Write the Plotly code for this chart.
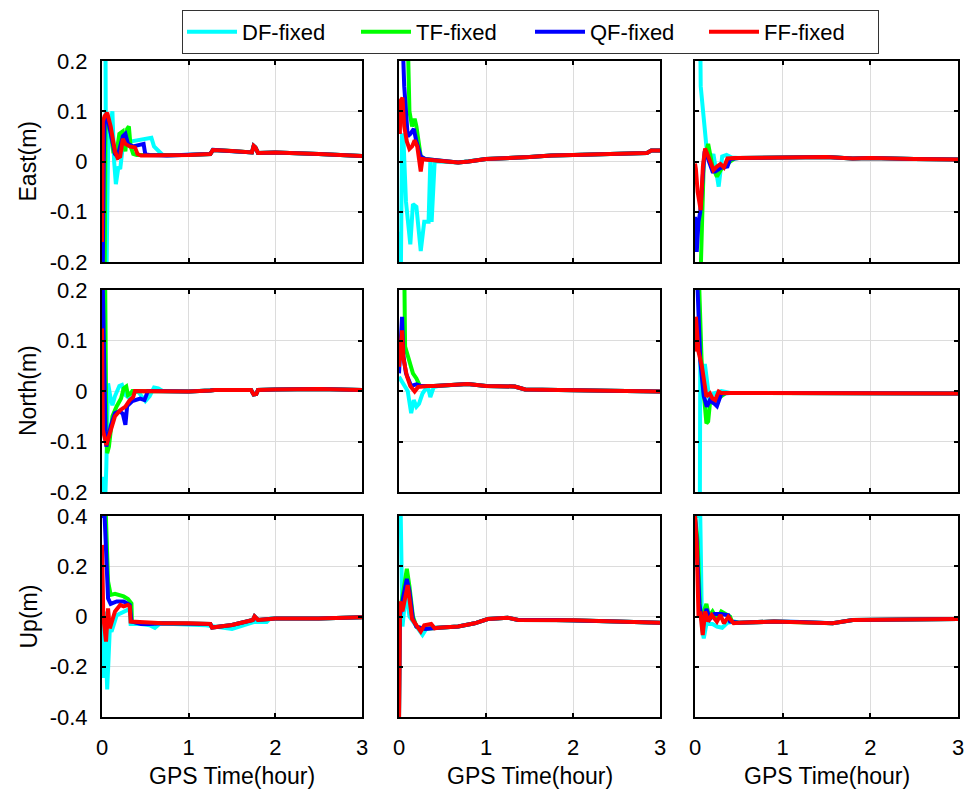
import plotly.graph_objects as go

SERIES = ["DF-fixed", "TF-fixed", "QF-fixed", "FF-fixed"]
COLORS = ["#00FFFF", "#00FF00", "#0000FF", "#FF0000"]
ROW_LABELS = ["East(m)", "North(m)", "Up(m)"]
X_LABEL = "GPS Time(hour)"
X_TICKS = [0, 1, 2, 3]
Y_TICKS_EN = [-0.2, -0.1, 0, 0.1, 0.2]
Y_TICKTEXT_EN = ["-0.2", "-0.1", "0", "0.1", "0.2"]
Y_TICKS_U = [-0.4, -0.2, 0, 0.2, 0.4]
Y_TICKTEXT_U = ["-0.4", "-0.2", "0", "0.2", "0.4"]

# ---------- East, station 1 ----------
E1_DF = [(0, 0.25), (0.04, 0.25), (0.05, -0.25), (0.07, 0.02), (0.09, 0.06), (0.12, 0.10), (0.14, 0.0),
         (0.16, -0.045), (0.19, -0.01), (0.21, -0.015), (0.24, 0.03), (0.28, 0.035), (0.34, 0.04),
         (0.4, 0.042), (0.5, 0.046), (0.57, 0.047), (0.6, 0.03), (0.65, 0.022), (0.7, 0.013)]
E1_TF = [(0, -0.25), (0.03, -0.25), (0.04, 0.06), (0.07, 0.085), (0.1, 0.06), (0.13, 0.02), (0.17, 0.02),
         (0.2, 0.055), (0.24, 0.06), (0.27, 0.02), (0.29, 0.065), (0.31, 0.07), (0.33, 0.03), (0.36, 0.015),
         (0.4, 0.013)]
E1_QF = [(0, -0.25), (0.01, -0.2), (0.02, 0.0), (0.03, 0.08), (0.06, 0.09), (0.1, 0.06), (0.15, 0.015),
         (0.18, 0.01), (0.24, 0.05), (0.27, 0.055), (0.3, 0.035), (0.36, 0.03), (0.45, 0.033), (0.48, 0.035),
         (0.5, 0.014), (0.55, 0.013)]
E1_FF = [(0, -0.16), (0.01, 0.08), (0.03, 0.09), (0.06, 0.097), (0.1, 0.07), (0.15, 0.02), (0.18, 0.007),
         (0.21, 0.01), (0.24, 0.045), (0.27, 0.035), (0.32, 0.03), (0.38, 0.028), (0.41, 0.015), (0.45, 0.012),
         (0.55, 0.012)]
E1_TAIL = [(0.75, 0.012), (1.0, 0.013), (1.25, 0.015), (1.28, 0.023), (1.5, 0.021), (1.73, 0.018),
           (1.75, 0.031), (1.77, 0.028), (1.8, 0.017), (2.0, 0.018), (2.5, 0.015), (3.0, 0.011)]

# ---------- East, station 2 ----------
E2_DF = [(0, -0.14), (0.01, -0.17), (0.02, -0.25), (0.035, 0.055), (0.05, 0.05), (0.08, -0.08),
         (0.13, -0.165), (0.16, -0.085), (0.2, -0.09), (0.25, -0.178), (0.29, -0.12), (0.34, -0.12),
         (0.36, 0.0), (0.375, -0.12), (0.41, 0.0), (0.45, 0.0)]
E2_TF = [(0, 0.25), (0.1, 0.25), (0.12, 0.1), (0.15, 0.07), (0.18, 0.085), (0.2, 0.07), (0.25, 0.01),
         (0.3, 0.005)]
E2_QF = [(0, 0.25), (0.04, 0.25), (0.06, 0.15), (0.1, 0.05), (0.13, 0.055), (0.17, 0.065), (0.2, 0.04),
         (0.25, 0.01), (0.3, 0.005)]
E2_FF = [(0, 0.12), (0.01, 0.055), (0.015, 0.12), (0.04, 0.127), (0.06, 0.07), (0.09, 0.04), (0.12, 0.025),
         (0.15, 0.03), (0.18, 0.042), (0.21, 0.03), (0.25, -0.02), (0.27, 0.005), (0.3, 0.004)]
E2_TAIL = [(0.45, 0.002), (0.68, -0.002), (0.8, 0.0), (1.0, 0.005), (1.5, 0.009), (1.75, 0.012),
           (2.0, 0.013), (2.5, 0.015), (2.85, 0.017), (2.9, 0.022), (3.0, 0.022)]

# ---------- East, station 3 ----------
E3_DF = [(0, 0.25), (0.06, 0.25), (0.065, 0.15), (0.08, 0.12), (0.1, 0.07), (0.13, 0.03), (0.17, -0.004),
         (0.21, 0.015), (0.27, -0.05), (0.31, 0.01), (0.36, 0.013), (0.42, 0.008)]
E3_TF = [(0, -0.25), (0.06, -0.25), (0.1, 0.0), (0.15, 0.035), (0.2, -0.01), (0.25, -0.03), (0.3, -0.015),
         (0.35, -0.01), (0.4, 0.0), (0.45, 0.006)]
E3_QF = [(0, -0.11), (0.02, -0.18), (0.04, -0.12), (0.06, -0.1), (0.08, -0.05), (0.11, 0.02), (0.15, 0.005),
         (0.2, -0.02), (0.23, -0.02), (0.3, -0.012), (0.37, -0.01), (0.4, 0.005)]
E3_FF = [(0, -0.004), (0.01, -0.015), (0.03, -0.06), (0.065, -0.097), (0.09, -0.01), (0.115, 0.026),
         (0.17, 0.002), (0.21, -0.017), (0.25, -0.01), (0.29, -0.005), (0.33, -0.012), (0.37, 0.006),
         (0.45, 0.007)]
E3_TAIL = [(0.5, 0.007), (1.0, 0.007), (1.5, 0.009), (1.8, 0.006), (2.0, 0.007), (2.5, 0.005), (3.0, 0.004)]

# ---------- North, station 1 ----------
N1_DF = [(0, -0.17), (0.01, -0.2), (0.03, -0.25), (0.05, -0.15), (0.06, 0.015), (0.07, 0.015),
         (0.1, -0.015), (0.12, -0.028), (0.15, -0.01), (0.2, 0.01), (0.23, 0.012), (0.27, -0.008),
         (0.3, -0.012), (0.35, -0.002), (0.42, -0.002), (0.45, -0.008), (0.5, -0.02), (0.55, -0.01),
         (0.6, 0.007), (0.65, 0.005), (0.7, 0.0)]
N1_TF = [(0, 0.25), (0.035, 0.25), (0.05, -0.08), (0.06, -0.123), (0.08, -0.11), (0.12, -0.05),
         (0.17, -0.03), (0.22, -0.015), (0.25, 0.005), (0.28, 0.009), (0.3, -0.008), (0.33, -0.005),
         (0.35, 0.0), (0.4, 0.0)]
N1_QF = [(0, 0.25), (0.01, 0.2), (0.04, -0.08), (0.05, -0.11), (0.1, -0.07), (0.15, -0.044), (0.2, -0.04),
         (0.24, -0.045), (0.27, -0.067), (0.29, -0.03), (0.35, -0.02), (0.44, -0.015), (0.49, -0.018),
         (0.53, 0.0), (0.55, 0.0)]
N1_FF = [(0, 0.124), (0.01, -0.077), (0.05, -0.107), (0.08, -0.09), (0.11, -0.07), (0.15, -0.05),
         (0.21, -0.038), (0.27, -0.031), (0.32, -0.018), (0.36, -0.012), (0.38, 0.0), (0.45, 0.0)]
N1_TAIL = [(0.5, 0.0), (1.0, -0.001), (1.25, 0.001), (1.3, 0.002), (1.72, 0.002), (1.75, -0.007),
           (1.78, -0.006), (1.8, 0.002), (2.0, 0.003), (2.5, 0.004), (3.0, 0.002)]

# ---------- North, station 2 ----------
N2_DF = [(0, 0.028), (0.03, 0.02), (0.1, 0.0), (0.14, -0.044), (0.17, -0.018), (0.2, -0.031),
         (0.23, -0.025), (0.27, -0.005), (0.33, 0.01), (0.36, -0.012), (0.4, 0.008), (0.45, 0.01)]
N2_TF = [(0, 0.25), (0.06, 0.25), (0.07, 0.088), (0.1, 0.07), (0.16, 0.035), (0.2, 0.025), (0.24, 0.01),
         (0.3, 0.01)]
N2_QF = [(0, 0.035), (0.02, 0.09), (0.035, 0.147), (0.05, 0.07), (0.08, 0.035), (0.14, 0.01), (0.2, 0.013),
         (0.25, 0.01)]
N2_FF = [(0, 0.048), (0.02, 0.1), (0.035, 0.12), (0.05, 0.065), (0.09, 0.03), (0.13, 0.01), (0.18, -0.001),
         (0.22, 0.008), (0.25, 0.009), (0.33, 0.01)]
N2_TAIL = [(0.4, 0.01), (0.6, 0.012), (0.79, 0.014), (1.0, 0.01), (1.33, 0.009), (1.45, 0.003),
           (1.8, 0.002), (2.0, 0.002), (2.5, 0.0), (3.0, -0.001)]

# ---------- North, station 3 ----------
N3_DF = [(0, -0.25), (0.055, -0.25), (0.06, 0.07), (0.08, 0.05), (0.115, 0.05), (0.15, 0.01),
         (0.17, -0.025), (0.21, -0.005), (0.3, 0.0), (0.35, -0.002)]
N3_TF = [(0, 0.25), (0.04, 0.25), (0.08, 0.035), (0.1, -0.01), (0.13, -0.064), (0.15, -0.06),
         (0.17, -0.025), (0.22, -0.02), (0.3, -0.01), (0.35, -0.004)]
N3_QF = [(0, 0.25), (0.03, 0.2), (0.06, 0.06), (0.1, -0.01), (0.135, -0.031), (0.17, -0.018),
         (0.22, -0.025), (0.25, -0.03), (0.3, -0.005), (0.35, -0.004)]
N3_FF = [(0, 0.078), (0.01, 0.147), (0.04, 0.078), (0.08, 0.048), (0.13, -0.011), (0.17, -0.005),
         (0.2, -0.015), (0.23, -0.018), (0.27, -0.001), (0.3, -0.004)]
N3_TAIL = [(0.4, -0.004), (1.0, -0.004), (1.5, -0.004), (2.0, -0.005), (2.5, -0.005), (2.9, -0.004),
           (3.0, -0.005)]

# ---------- Up, station 1 ----------
U1_DF = [(0, 0.18), (0.01, -0.245), (0.03, 0.02), (0.06, -0.29), (0.09, -0.05), (0.11, -0.06),
         (0.17, 0.005), (0.25, 0.02), (0.32, 0.03), (0.33, -0.03), (0.45, -0.03), (0.55, -0.035),
         (0.61, -0.045), (0.67, -0.028), (0.9, -0.03), (1.2, -0.035), (1.5, -0.05), (1.75, -0.022),
         (1.9, -0.022)]
U1_TF = [(0, 0.4), (0.045, 0.4), (0.07, 0.14), (0.1, 0.086), (0.15, 0.09), (0.25, 0.08), (0.3, 0.07),
         (0.34, 0.052), (0.345, -0.02), (0.4, -0.025)]
U1_QF = [(0, 0.4), (0.03, 0.4), (0.07, 0.072), (0.1, 0.05), (0.17, 0.06), (0.25, 0.06), (0.32, 0.046),
         (0.34, -0.02), (0.45, -0.03), (0.5, -0.032), (0.55, -0.03)]
U1_FF = [(0, 0.285), (0.015, 0.0), (0.046, -0.1), (0.07, 0.032), (0.09, -0.047), (0.15, 0.02),
         (0.21, 0.046), (0.25, 0.04), (0.3, 0.046), (0.32, 0.04), (0.33, -0.02), (0.45, -0.023),
         (0.63, -0.027)]
U1_TAIL = [(0.7, -0.027), (1.0, -0.027), (1.25, -0.03), (1.27, -0.044), (1.5, -0.034), (1.74, -0.014),
           (1.76, 0.0), (1.8, -0.014), (1.94, -0.008), (2.0, -0.008), (2.5, -0.008), (3.0, -0.003)]

# ---------- Up, station 2 ----------
U2_DF = [(0, 0.4), (0.02, 0.4), (0.04, -0.04), (0.08, 0.1), (0.12, 0.0), (0.2, -0.04), (0.27, -0.073),
         (0.33, -0.04), (0.4, -0.045)]
U2_TF = [(0, -0.42), (0.01, 0.02), (0.05, 0.1), (0.09, 0.19), (0.12, 0.12), (0.16, 0.0), (0.2, -0.04),
         (0.3, -0.05)]
U2_QF = [(0, -0.42), (0.01, 0.0), (0.05, 0.08), (0.09, 0.15), (0.12, 0.1), (0.16, -0.01), (0.2, -0.04),
         (0.3, -0.05)]
U2_FF = [(0, -0.42), (0.012, 0.06), (0.04, 0.02), (0.1, 0.125), (0.15, -0.01), (0.22, -0.047),
         (0.25, -0.06), (0.29, -0.035), (0.37, -0.03), (0.41, -0.047)]
U2_TAIL = [(0.45, -0.045), (0.68, -0.04), (0.87, -0.027), (1.02, -0.01), (1.25, -0.005), (1.37, -0.014),
           (1.8, -0.014), (2.0, -0.015), (2.5, -0.02), (3.0, -0.025)]

# ---------- Up, station 3 ----------
U3_DF = [(0, 0.4), (0.06, 0.4), (0.08, -0.05), (0.1, -0.087), (0.13, -0.03), (0.2, -0.03), (0.25, -0.04),
         (0.31, -0.045), (0.37, -0.025), (0.45, -0.02)]
U3_TF = [(0, 0.4), (0.03, 0.3), (0.06, 0.0), (0.1, 0.02), (0.13, 0.05), (0.16, 0.0), (0.2, 0.02),
         (0.25, -0.01), (0.3, 0.02), (0.4, 0.0), (0.42, -0.02)]
U3_QF = [(0, 0.4), (0.02, 0.3), (0.05, 0.05), (0.09, -0.04), (0.13, 0.03), (0.17, -0.01), (0.22, 0.01),
         (0.3, 0.01), (0.38, 0.005), (0.4, -0.02)]
U3_FF = [(0, 0.4), (0.02, 0.28), (0.04, 0.0), (0.06, 0.02), (0.088, -0.074), (0.115, 0.02), (0.15, -0.02),
         (0.19, 0.006), (0.25, -0.02), (0.29, 0.006), (0.33, -0.027), (0.38, -0.001), (0.44, -0.027)]
U3_TAIL = [(0.5, -0.025), (0.9, -0.02), (1.2, -0.022), (1.57, -0.027), (1.8, -0.014), (2.0, -0.013),
           (2.5, -0.011), (3.0, -0.01)]

PANELS = [
    [(E1_DF, E1_TF, E1_QF, E1_FF, E1_TAIL), (E2_DF, E2_TF, E2_QF, E2_FF, E2_TAIL), (E3_DF, E3_TF, E3_QF, E3_FF, E3_TAIL)],
    [(N1_DF, N1_TF, N1_QF, N1_FF, N1_TAIL), (N2_DF, N2_TF, N2_QF, N2_FF, N2_TAIL), (N3_DF, N3_TF, N3_QF, N3_FF, N3_TAIL)],
    [(U1_DF, U1_TF, U1_QF, U1_FF, U1_TAIL), (U2_DF, U2_TF, U2_QF, U2_FF, U2_TAIL), (U3_DF, U3_TF, U3_QF, U3_FF, U3_TAIL)],
]

W, H = 978, 790
COL_PX = [(102, 362), (399, 660), (695, 958)]
ROW_PX = [(61, 262), (290, 492), (516, 717)]

FONT = "Liberation Sans, Arial, sans-serif"
fig = go.Figure()
annotations = []
layout = dict(
    width=W, height=H, margin=dict(l=0, r=0, t=0, b=0, autoexpand=False),
    paper_bgcolor="white", plot_bgcolor="white",
    font=dict(family=FONT, size=22, color="black"),
    showlegend=True,
    legend=dict(orientation="h", x=530.5 / W, xanchor="center", y=1 - 10 / H, yanchor="top",
                bordercolor="#333333", borderwidth=1, bgcolor="white",
                font=dict(size=22, family=FONT), entrywidth=109, itemwidth=50,
                tracegroupgap=0),
)

for r in range(3):
    for c in range(3):
        idx = r * 3 + c + 1
        xa = "x" if idx == 1 else f"x{idx}"
        ya = "y" if idx == 1 else f"y{idx}"
        panel = PANELS[r][c]
        tail = panel[4]
        for s in range(4):
            pts = panel[s] + [p for p in tail if p[0] > panel[s][-1][0]]
            fig.add_trace(go.Scatter(
                x=[p[0] for p in pts], y=[p[1] for p in pts], mode="lines",
                line=dict(color=COLORS[s], width=4),
                name=SERIES[s], showlegend=(idx == 1), legendgroup=SERIES[s],
                xaxis=xa, yaxis=ya))
        x0, x1 = COL_PX[c]
        y0, y1 = ROW_PX[r]
        yt = Y_TICKS_U if r == 2 else Y_TICKS_EN
        ytt = Y_TICKTEXT_U if r == 2 else Y_TICKTEXT_EN
        axcommon = dict(showline=True, linecolor="black", linewidth=2, mirror="ticks",
                        ticks="inside", ticklen=4, tickwidth=1.5, tickcolor="black",
                        showgrid=True, gridcolor="#dcdcdc", gridwidth=1, zeroline=False,
                        automargin=False)
        layout["xaxis" + ("" if idx == 1 else str(idx))] = dict(
            domain=[x0 / W, x1 / W], range=[0, 3], tickvals=X_TICKS,
            showticklabels=(r == 2), anchor=ya, ticklabelstandoff=10,
            **axcommon)
        layout["yaxis" + ("" if idx == 1 else str(idx))] = dict(
            domain=[1 - y1 / H, 1 - y0 / H], range=[yt[0], yt[-1]], tickvals=yt, ticktext=ytt,
            showticklabels=(c == 0), anchor=xa, ticklabelstandoff=8,
            **axcommon)
        if r == 2:
            annotations.append(dict(text=X_LABEL, xref="paper", yref="paper",
                                    x=(x0 + x1) / 2 / W, y=1 - 776 / H,
                                    xanchor="center", yanchor="middle", showarrow=False,
                                    font=dict(size=23, family=FONT)))
        if c == 0:
            annotations.append(dict(text=ROW_LABELS[r], xref="paper", yref="paper",
                                    x=28 / W, y=1 - (y0 + y1) / 2 / H, textangle=-90,
                                    xanchor="center", yanchor="middle", showarrow=False,
                                    font=dict(size=23, family=FONT)))

layout["annotations"] = annotations
fig.update_layout(**layout)
fig.write_html("out.html", config={"displayModeBar": False},
               post_script="document.body.style.margin='0px';document.body.style.overflow='hidden';")
